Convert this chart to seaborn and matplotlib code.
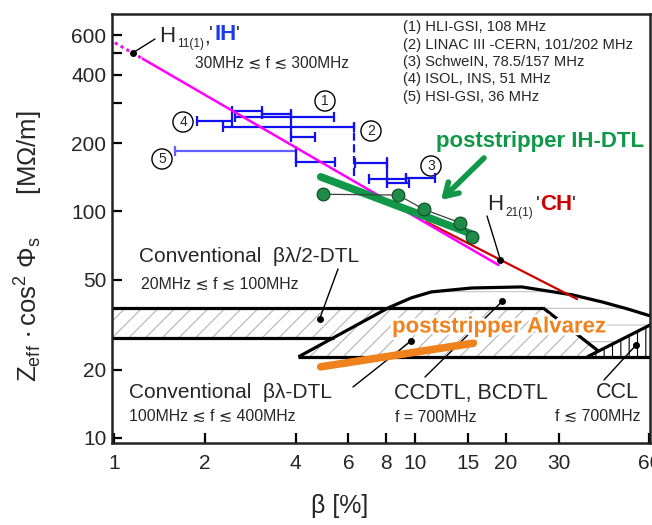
import matplotlib
matplotlib.use("Agg")
import matplotlib.pyplot as plt
import matplotlib.patheffects as pe
from matplotlib.ticker import NullLocator
import seaborn as sns

# ---- values ----
# H11(1) 'IH' line and its dotted extension
ih_beta = [1.24, 18.9]
ih_z = [472, 58]
ih_ext_beta = [0.96, 1.24]
ih_ext_z = [574, 472]

# H21(1) 'CH' line
ch_beta = [10.9, 34.5]
ch_z = [89.8, 41]

# poststripper IH-DTL (thick green) and the cavity points
ihdtl_beta = [4.85, 15.2]
ihdtl_z = [142, 80]
cav_beta = [4.92, 8.77, 10.7, 14.1, 15.5]
cav_z = [119, 118, 102, 89, 77]

# poststripper Alvarez
alv_beta = [4.85, 15.6]
alv_z = [20.6, 26.2]

# existing IH linacs (1)-(5): beta ranges
bar_lo = [2.46, 3.10, 2.52, 1.88, 2.30, 3.85, 1.59, 4.00, 6.30, 7.02, 9.33, 8.06]
bar_hi = [3.10, 3.85, 5.36, 2.46, 6.25, 4.63, 4.00, 5.40, 8.06, 9.33, 11.6, 9.55]
bar_z = [278, 269, 261, 250, 236, 213, 185, 165, 164, 139, 140, 133]
bar_color = ["#1010f0"] * 6 + ["#6060ff"] + ["#1010f0"] * 5
conn_beta = [3.85, 4.00, 6.25, 8.06]
conn_lo = [209, 162, 143, 128]
conn_hi = [278, 188, 246, 172]
conn_style = ["-", "-", "--", "-"]

# regions of the conventional structures
dtl2_beta = [0.9, 5.36, 8.13, 0.9]
dtl2_z = [27.6, 27.6, 37.5, 37.5]
dtl_beta = [4.09, 8.13, 26.6, 40.6, 37.3]
dtl_z = [22.8, 37.5, 37.5, 24.2, 22.8]
curve_beta = [8.13, 9.69, 11.3, 15.4, 22.6, 33.3, 41.9, 50.8, 62]
curve_z = [37.5, 41.5, 44.1, 45.9, 46.4, 42.8, 39.8, 37.1, 34.2]
ccl_beta = [37.3, 62, 62]
ccl_z = [22.8, 32.1, 22.8]

xticks = [1, 2, 4, 6, 8, 10, 15, 20, 30, 60]
yticks = [10, 20, 50, 100, 200, 300, 400, 500, 600]
ylabels = ["10", "20", "50", "100", "200", "", "400", "", "600"]

legend_lines = ["(1) HLI-GSI, 108 MHz",
                "(2) LINAC III -CERN, 101/202 MHz",
                "(3) SchweIN, 78.5/157 MHz",
                "(4) ISOL, INS, 51 MHz",
                "(5) HSI-GSI, 36 MHz"]

sns.set_style("ticks")
plt.rcParams["font.family"] = ["Liberation Sans", "DejaVu Sans"]
plt.rcParams["mathtext.fontset"] = "custom"
plt.rcParams["mathtext.rm"] = "Liberation Sans"
plt.rcParams["mathtext.it"] = "Liberation Sans:italic"
plt.rcParams["mathtext.bf"] = "Liberation Sans:bold"
plt.rcParams["hatch.linewidth"] = 0.8

fig = plt.figure(figsize=(6.52, 5.25), dpi=100)
ax = fig.add_axes([112 / 652, 1 - 443 / 525, 538 / 652, 429 / 525])
ax.set(xscale="log", yscale="log")


# pixel position in the reference -> axes fraction
def P(px, py):
    return ((px - 112) / 538, (443 - py) / 429)


# hatched regions
ax.fill(dtl2_beta, dtl2_z, facecolor="white", edgecolor="#b4b4b4", hatch="//", lw=0, zorder=1)
ax.fill(dtl_beta, dtl_z, facecolor="white", edgecolor="#b4b4b4", hatch="//", lw=0, zorder=1)
cc_beta = curve_beta + [62, 40.6, 26.6]
cc_z = curve_z + [32.1, 24.2, 37.5]
ax.fill(cc_beta, cc_z, facecolor="white", edgecolor="#c4c4c4", hatch="-", lw=0, zorder=1)
ax.fill(ccl_beta, ccl_z, facecolor="white", edgecolor="black", hatch="||", lw=0, zorder=1)

# outlines
kw = dict(color="black", lw=2.3, zorder=2, solid_capstyle="butt")
ax.plot([0.9, 26.6], [37.5, 37.5], **kw)
ax.plot([0.9, 5.36], [27.6, 27.6], **kw)
ax.plot(dtl_beta[:2], dtl_z[:2], **kw)
ax.plot(dtl_beta[2:4], dtl_z[2:4], **kw)
ax.plot([4.09, 62], [22.8, 22.8], **kw)
ax.plot(curve_beta, curve_z, **kw)
ax.plot(ccl_beta[:2], ccl_z[:2], **kw)

# blue ranges of existing linacs
for lo, hi, z, c in zip(bar_lo, bar_hi, bar_z, bar_color):
    ax.errorbar([lo], [z], xerr=[[0], [hi - lo]], fmt="none", ecolor=c,
                elinewidth=1.6, capsize=3.5, capthick=1.6, zorder=4)
for b, lo, hi, ls in zip(conn_beta, conn_lo, conn_hi, conn_style):
    ax.plot([b, b], [lo, hi], color="#1010f0", lw=1.6, ls=ls, zorder=4)

# lines
sns.lineplot(x=ch_beta, y=ch_z, ax=ax, color="#cc0000", lw=1.6, sort=False, estimator=None, zorder=5)
sns.lineplot(x=ih_beta, y=ih_z, ax=ax, color="#ff00ff", lw=1.8, sort=False, estimator=None, zorder=5)
sns.lineplot(x=ih_ext_beta, y=ih_ext_z, ax=ax, color="#ff00ff", lw=2.2, ls=(0, (1, 1.2)),
             sort=False, estimator=None, zorder=5)
sns.lineplot(x=ihdtl_beta, y=ihdtl_z, ax=ax, color="#109848", lw=5.5, sort=False, estimator=None,
             zorder=6, solid_capstyle="round")
sns.lineplot(x=alv_beta, y=alv_z, ax=ax, color="#f0821e", lw=5.5, sort=False, estimator=None,
             zorder=6, solid_capstyle="round")
sns.lineplot(x=cav_beta, y=cav_z, ax=ax, color="#404040", lw=0.9, sort=False, estimator=None, zorder=7)
sns.scatterplot(x=cav_beta, y=cav_z, ax=ax, s=85, color="#1e8c48", edgecolor="#0c4a22",
                linewidth=0.8, zorder=8)

# leader lines with dots
leaders = [((155, 39), (1.15, 500)), ((487, 216), (19.2, 61)), ((338, 269), (4.81, 33.5)),
           ((353, 387), (9.69, 26.8)), ((425, 377), (19.5, 40.2)), ((604, 380), (54.2, 25.7))]
for (px, py), (bx, bz) in leaders:
    ax.annotate("", xy=(bx, bz), xytext=P(px, py), textcoords="axes fraction",
                arrowprops=dict(arrowstyle="-", color="black", lw=1, shrinkA=0, shrinkB=0), zorder=3)
    ax.plot([bx], [bz], "o", color="black", ms=4, zorder=9)

# green arrow
ax.annotate("", xy=P(441, 200), xytext=P(484, 158), xycoords="axes fraction",
            textcoords="axes fraction",
            arrowprops=dict(arrowstyle="->,head_length=0.9,head_width=0.55", color="#109848",
                            lw=4, shrinkA=0, shrinkB=0))


# texts
def T(px, py, s, **kw):
    kw.setdefault("ha", "left")
    kw.setdefault("va", "center")
    kw.setdefault("fontsize", 11)
    return ax.text(*P(px, py), s, transform=ax.transAxes, **kw)


for i, s in enumerate(legend_lines):
    T(403, 27 + 17.5 * i, s, fontsize=10.6)

T(159, 36, "H", fontsize=16)
T(177, 44, "11(1)", fontsize=8.5)
T(204, 37, ",", fontsize=15)
T(209, 35, "'", fontsize=15)
T(214, 35, "IH", fontsize=16, color="#1a3cf0", fontweight="bold")
T(236, 35, "'", fontsize=15)
T(195, 63, "30MHz ≲ f ≲ 300MHz", fontsize=11.2)

T(487, 204, "H", fontsize=16)
T(505, 213, "21(1)", fontsize=8.5)
T(536, 204, "'", fontsize=15)
T(540, 204, "CH", fontsize=16, color="#cc0000", fontweight="bold")
T(572, 204, "'", fontsize=15)

T(436, 141, "poststripper IH-DTL", fontsize=16, color="#109848", fontweight="bold")
T(392, 327, "poststripper Alvarez", fontsize=16, color="#f0821e", fontweight="bold", zorder=10,
  path_effects=[pe.withStroke(linewidth=4, foreground="white")])

T(139, 256, "Conventional  βλ/2-DTL", fontsize=15)
T(141, 284, "20MHz ≲ f ≲ 100MHz", fontsize=11.4)
T(129, 392, "Conventional  βλ-DTL", fontsize=15)
T(129, 416, "100MHz ≲ f ≲ 400MHz", fontsize=11.4)
T(394, 394, "CCDTL, BCDTL", fontsize=15.5)
T(395, 417, "f = 700MHz", fontsize=11.4)
T(596, 392, "CCL", fontsize=15.5)
T(555, 416, "f ≲ 700MHz", fontsize=11.4)

for n, (px, py) in zip("12345", [(325, 101), (371, 131), (431, 166), (183, 122), (162, 159)]):
    T(px, py, n, fontsize=10, ha="center",
      bbox=dict(boxstyle="circle,pad=0.22", fc="white", ec="black", lw=1))

# axes
ax.set_xlim(0.982, 60.3)
ax.set_ylim(9.5, 743)
ax.set_xticks(xticks, [str(t) for t in xticks])
ax.set_yticks(yticks, ylabels)
ax.xaxis.set_minor_locator(NullLocator())
ax.yaxis.set_minor_locator(NullLocator())
ax.tick_params(direction="in", length=7, width=1.6, labelsize=15, color="black")
ax.tick_params(axis="x", pad=8)
ax.tick_params(axis="y", pad=4)
for sp in ax.spines.values():
    sp.set_visible(True)
    sp.set_linewidth(1.8)
    sp.set_color("#222222")

ax.set_xlabel("β [%]", fontsize=18)
ax.xaxis.set_label_coords(*P(340, 494))
ax.set_ylabel(r"$\mathregular{Z_{eff}\ \!\cdot cos^2\ \Phi_s}$      [MΩ/m]", fontsize=18.5)
ax.yaxis.set_label_coords(*P(45, 246))

fig.savefig("out.png", dpi=100)
